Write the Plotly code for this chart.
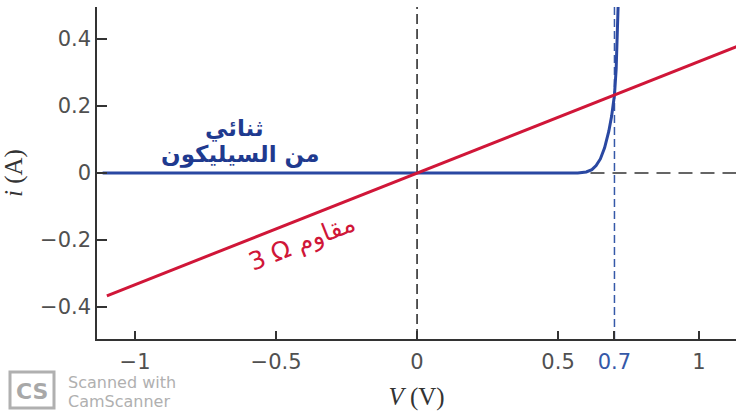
import plotly.graph_objects as go

# ---- data ----
resistor_v = [-1.10, 1.14]
resistor_i = [-0.367, 0.380]

diode_v = [-1.115, 0.57, 0.60, 0.62, 0.635, 0.65, 0.665, 0.68, 0.69, 0.70, 0.706, 0.71, 0.713]
diode_i = [0.0, 0.0, 0.003, 0.010, 0.022, 0.042, 0.075, 0.125, 0.17, 0.233, 0.31, 0.40, 0.50]

x_tick_vals = [-1, -0.5, 0, 0.5, 0.7, 1]
x_tick_text = ["−1", "−0.5", "0", "0.5", "<span style='color:#3558a8'>0.7</span>", "1"]
y_tick_vals = [-0.4, -0.2, 0, 0.2, 0.4]
y_tick_text = ["−0.4", "−0.2", "0", "0.2", "0.4"]

operating_v = 0.7
knee_v = 0.615

X_RANGE = [-1.135, 1.131]
Y_RANGE = [-0.496, 0.496]

RED = "#d01638"
BLUE = "#2a48a2"
GRAY = "#505050"

fig = go.Figure()

# dashed reference lines
fig.add_trace(go.Scatter(x=[0, 0], y=[Y_RANGE[0], Y_RANGE[1]], mode="lines",
                         line=dict(color="#222222", width=1.5, dash="10px,5px"), hoverinfo="skip"))
fig.add_trace(go.Scatter(x=[knee_v, X_RANGE[1]], y=[0, 0], mode="lines",
                         line=dict(color="#333333", width=1.5, dash="14px,8px"), hoverinfo="skip"))
fig.add_trace(go.Scatter(x=[operating_v, operating_v], y=[Y_RANGE[0], Y_RANGE[1]], mode="lines",
                         line=dict(color="#3558a8", width=1.5, dash="8px,4px"), hoverinfo="skip"))

# diode curve
fig.add_trace(go.Scatter(x=diode_v, y=diode_i, mode="lines",
                         line=dict(color=BLUE, width=3), hoverinfo="skip"))
# resistor line
fig.add_trace(go.Scatter(x=resistor_v, y=resistor_i, mode="lines",
                         line=dict(color=RED, width=3), hoverinfo="skip"))

layout_ann = [
    dict(x=-0.647, y=0.134, text="<b>ثنائي</b>", showarrow=False,
         font=dict(family="DejaVu Sans", size=23, color="#1f3a8f")),
    dict(x=-0.629, y=0.054, text="<b>من السيليكون</b>", showarrow=False,
         font=dict(family="DejaVu Sans", size=23, color="#1f3a8f")),
    dict(x=-0.409, y=-0.209, text="3 Ω مقاوم", showarrow=False, textangle=-21.6,
         font=dict(family="DejaVu Sans", size=25, color=RED)),
]

# watermark texts in pixel-based paper coordinates
W, H = 736, 412
ml, mr, mt, mb = 97, 0, 7, 73
pw, ph = W - ml - mr, H - mt - mb


def px_to_paper(px, py):
    return (px - ml) / pw, 1 - (py - mt) / ph


for txt, (px, py) in [("Scanned with", (67, 382)), ("CamScanner", (67, 401))]:
    xp, yp = px_to_paper(px, py)
    layout_ann.append(dict(x=xp, y=yp, xref="paper", yref="paper", text=txt, showarrow=False,
                           xanchor="left", yanchor="middle", borderpad=0,
                           font=dict(family="DejaVu Sans", size=16, color="#b0b0b0")))
xp, yp = px_to_paper(32, 391)
layout_ann.append(dict(x=xp, y=yp, xref="paper", yref="paper", text="<b>CS</b>", showarrow=False,
                       xanchor="center", yanchor="middle",
                       font=dict(family="DejaVu Sans", size=22, color="#a8a8a8")))
x0, y0 = px_to_paper(10, 372)
x1, y1 = px_to_paper(54, 408)

fig.update_layout(
    width=W, height=H,
    margin=dict(l=ml, r=mr, t=mt, b=mb),
    paper_bgcolor="white", plot_bgcolor="white",
    showlegend=False,
    annotations=layout_ann,
    shapes=[dict(type="rect", xref="paper", yref="paper", x0=x0, y0=y0, x1=x1, y1=y1,
                 line=dict(color="#b0b0b0", width=3), fillcolor="rgba(0,0,0,0)", layer="above")],
    xaxis=dict(range=X_RANGE, tickvals=x_tick_vals, ticktext=x_tick_text,
               ticks="inside", ticklen=8, tickwidth=1.5, tickcolor="#333",
               showline=True, linecolor="#333", linewidth=1.5,
               showgrid=False, zeroline=False, ticklabelstandoff=3,
               tickfont=dict(family="DejaVu Sans", size=21, color=GRAY),
               title=dict(text="<i>V</i> (V)", standoff=15,
                          font=dict(family="Liberation Serif", size=25, color="#333"))),
    yaxis=dict(range=Y_RANGE, tickvals=y_tick_vals, ticktext=y_tick_text,
               ticks="inside", ticklen=10, tickwidth=1.5, tickcolor="#333",
               showline=True, linecolor="#333", linewidth=1.5,
               showgrid=False, zeroline=False,
               tickfont=dict(family="DejaVu Sans", size=21, color=GRAY),
               title=dict(text="<i>i</i> (A)", standoff=12,
                          font=dict(family="Liberation Serif", size=25, color="#333"))),
)

fig.write_html("out.html", config={"displayModeBar": False},
               post_script="document.body.style.margin='0';document.body.style.overflow='hidden';")
